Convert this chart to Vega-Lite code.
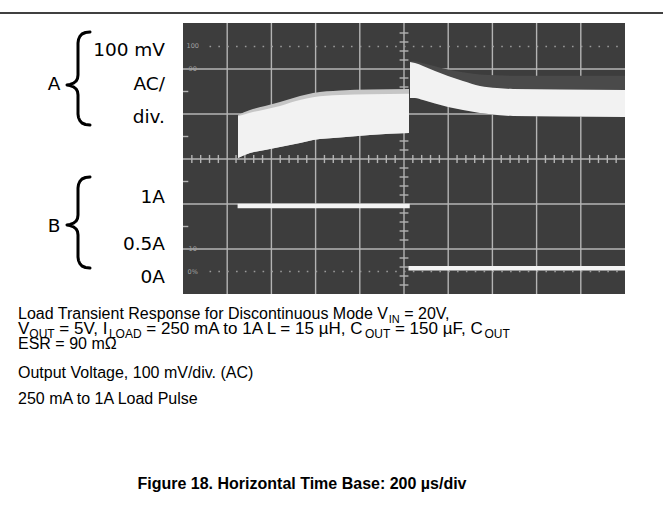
{
  "$schema": "https://vega.github.io/schema/vega-lite/v6.json",
  "width": 663,
  "height": 516,
  "autosize": {"type": "none"},
  "padding": 0,
  "background": "white",
  "config": {"view": {"stroke": null}},
  "datasets": {
    "topRule": [{"x1": -4.1403, "x2": 10.8597, "y1": 3.2444, "y2": 3.2444}],
    "screen": [{"x1": 0, "x2": 10, "y1": -3, "y2": 3.02}],
    "grid": [
      {"x1": 1, "x2": 1, "y1": -3, "y2": 3.02}, {"x1": 2, "x2": 2, "y1": -3, "y2": 3.02},
      {"x1": 3, "x2": 3, "y1": -3, "y2": 3.02}, {"x1": 4, "x2": 4, "y1": -3, "y2": 3.02},
      {"x1": 5, "x2": 5, "y1": -3, "y2": 3.02}, {"x1": 6, "x2": 6, "y1": -3, "y2": 3.02},
      {"x1": 7, "x2": 7, "y1": -3, "y2": 3.02}, {"x1": 8, "x2": 8, "y1": -3, "y2": 3.02},
      {"x1": 9, "x2": 9, "y1": -3, "y2": 3.02},
      {"x1": 0, "x2": 10, "y1": -2, "y2": -2}, {"x1": 0, "x2": 10, "y1": -1, "y2": -1},
      {"x1": 0, "x2": 10, "y1": 0, "y2": 0}, {"x1": 0, "x2": 10, "y1": 1, "y2": 1},
      {"x1": 0, "x2": 10, "y1": 2, "y2": 2}
    ],
    "ticksH": [
      {"u": 0.2}, {"u": 0.4}, {"u": 0.6}, {"u": 0.8}, {"u": 1.2}, {"u": 1.4}, {"u": 1.6}, {"u": 1.8},
      {"u": 2.2}, {"u": 2.4}, {"u": 2.6}, {"u": 2.8}, {"u": 3.2}, {"u": 3.4}, {"u": 3.6}, {"u": 3.8},
      {"u": 4.2}, {"u": 4.4}, {"u": 4.6}, {"u": 4.8}, {"u": 5.2}, {"u": 5.4}, {"u": 5.6}, {"u": 5.8},
      {"u": 6.2}, {"u": 6.4}, {"u": 6.6}, {"u": 6.8}, {"u": 7.2}, {"u": 7.4}, {"u": 7.6}, {"u": 7.8},
      {"u": 8.2}, {"u": 8.4}, {"u": 8.6}, {"u": 8.8}, {"u": 9.2}, {"u": 9.4}, {"u": 9.6}, {"u": 9.8}
    ],
    "ticksV": [
      {"v": -2.8}, {"v": -2.6}, {"v": -2.4}, {"v": -2.2}, {"v": -1.8}, {"v": -1.6}, {"v": -1.4}, {"v": -1.2},
      {"v": -0.8}, {"v": -0.6}, {"v": -0.4}, {"v": -0.2}, {"v": 0.2}, {"v": 0.4}, {"v": 0.6}, {"v": 0.8},
      {"v": 1.2}, {"v": 1.4}, {"v": 1.6}, {"v": 1.8}, {"v": 2.2}, {"v": 2.4}, {"v": 2.6}, {"v": 2.8}
    ],
    "edgeTicks": [
      {"x1": 0, "x2": 0.12, "y1": 1.5, "y2": 1.5}, {"x1": 0, "x2": 0.12, "y1": 0.5, "y2": 0.5},
      {"x1": 0, "x2": 0.12, "y1": -0.5, "y2": -0.5}, {"x1": 0, "x2": 0.12, "y1": -1.5, "y2": -1.5}
    ],
    "dots": [
      {"x1": 0.6, "x2": 10, "y1": 2.5, "y2": 2.5},
      {"x1": 0.6, "x2": 10, "y1": -2.5, "y2": -2.5}
    ],
    "tiny": [
      {"u": 0.22, "v": 2.5, "txt": "100"}, {"u": 0.22, "v": 2.0, "txt": "90"},
      {"u": 0.22, "v": -2.0, "txt": "10"}, {"u": 0.22, "v": -2.5, "txt": "0%"}
    ],
    "band": [
      {"seg": "a", "t": 1.2443, "hi": 0.9778, "hw": 0.95, "lo": 0.0222},
      {"seg": "a", "t": 1.5158, "hi": 1.0889, "hw": 1.03, "lo": 0.1333},
      {"seg": "a", "t": 1.8552, "hi": 1.1778, "hw": 1.1, "lo": 0.2},
      {"seg": "a", "t": 2.1946, "hi": 1.2667, "hw": 1.18, "lo": 0.2667},
      {"seg": "a", "t": 2.6471, "hi": 1.4, "hw": 1.31, "lo": 0.3556},
      {"seg": "a", "t": 2.9412, "hi": 1.4667, "hw": 1.37, "lo": 0.4222},
      {"seg": "a", "t": 3.552, "hi": 1.5222, "hw": 1.42, "lo": 0.4778},
      {"seg": "a", "t": 4.2308, "hi": 1.5444, "hw": 1.44, "lo": 0.5333},
      {"seg": "a", "t": 5.1131, "hi": 1.5556, "hw": 1.45, "lo": 0.5778},
      {"seg": "b", "t": 5.1357, "hi": 2.18, "hw": 2.1556, "lo": 1.3556},
      {"seg": "b", "t": 5.2489, "hi": 2.17, "hw": 2.1333, "lo": 1.3556},
      {"seg": "b", "t": 5.4299, "hi": 2.13, "hw": 2.0667, "lo": 1.3111},
      {"seg": "b", "t": 5.7014, "hi": 2.06, "hw": 1.9556, "lo": 1.2333},
      {"seg": "b", "t": 5.9955, "hi": 1.99, "hw": 1.8444, "lo": 1.1556},
      {"seg": "b", "t": 6.3348, "hi": 1.93, "hw": 1.7333, "lo": 1.0889},
      {"seg": "b", "t": 6.7195, "hi": 1.88, "hw": 1.6222, "lo": 1.0222},
      {"seg": "b", "t": 7.1041, "hi": 1.86, "hw": 1.5778, "lo": 0.9778},
      {"seg": "b", "t": 7.4661, "hi": 1.85, "hw": 1.5556, "lo": 0.9556},
      {"seg": "b", "t": 8.5294, "hi": 1.85, "hw": 1.5444, "lo": 0.9444},
      {"seg": "b", "t": 10, "hi": 1.85, "hw": 1.5333, "lo": 0.9333}
    ],
    "current": [
      {"x1": 1.235, "x2": 5.13, "y1": -1.044, "y2": -1.044},
      {"x1": 5.1, "x2": 10, "y1": -2.429, "y2": -2.429}
    ],
    "brace": [
      {"b": "A", "i": 1, "x": -2.1041, "y": 2.8222}, {"b": "A", "i": 2, "x": -2.2059, "y": 2.8111},
      {"b": "A", "i": 3, "x": -2.2851, "y": 2.7778}, {"b": "A", "i": 4, "x": -2.3348, "y": 2.7222},
      {"b": "A", "i": 5, "x": -2.3643, "y": 2.6556}, {"b": "A", "i": 6, "x": -2.3756, "y": 2.5778},
      {"b": "A", "i": 7, "x": -2.3756, "y": 1.8667}, {"b": "A", "i": 8, "x": -2.3869, "y": 1.7889},
      {"b": "A", "i": 9, "x": -2.4208, "y": 1.7289}, {"b": "A", "i": 10, "x": -2.4774, "y": 1.6844},
      {"b": "A", "i": 11, "x": -2.5566, "y": 1.6578}, {"b": "A", "i": 12, "x": -2.6244, "y": 1.6444},
      {"b": "A", "i": 13, "x": -2.5566, "y": 1.6311}, {"b": "A", "i": 14, "x": -2.4774, "y": 1.6044},
      {"b": "A", "i": 15, "x": -2.4208, "y": 1.56}, {"b": "A", "i": 16, "x": -2.3869, "y": 1.5},
      {"b": "A", "i": 17, "x": -2.3756, "y": 1.4222}, {"b": "A", "i": 18, "x": -2.3756, "y": 1.0},
      {"b": "A", "i": 19, "x": -2.3643, "y": 0.9222}, {"b": "A", "i": 20, "x": -2.3348, "y": 0.8556},
      {"b": "A", "i": 21, "x": -2.2851, "y": 0.8}, {"b": "A", "i": 22, "x": -2.2059, "y": 0.7667},
      {"b": "A", "i": 23, "x": -2.1041, "y": 0.7556},
      {"b": "B", "i": 1, "x": -2.1041, "y": -0.4}, {"b": "B", "i": 2, "x": -2.2059, "y": -0.4111},
      {"b": "B", "i": 3, "x": -2.2851, "y": -0.4444}, {"b": "B", "i": 4, "x": -2.3348, "y": -0.5},
      {"b": "B", "i": 5, "x": -2.3643, "y": -0.5667}, {"b": "B", "i": 6, "x": -2.3756, "y": -0.6444},
      {"b": "B", "i": 7, "x": -2.3756, "y": -1.2444}, {"b": "B", "i": 8, "x": -2.3869, "y": -1.3222},
      {"b": "B", "i": 9, "x": -2.4208, "y": -1.3822}, {"b": "B", "i": 10, "x": -2.4774, "y": -1.4267},
      {"b": "B", "i": 11, "x": -2.5566, "y": -1.4533}, {"b": "B", "i": 12, "x": -2.6244, "y": -1.4667},
      {"b": "B", "i": 13, "x": -2.5566, "y": -1.48}, {"b": "B", "i": 14, "x": -2.4774, "y": -1.5067},
      {"b": "B", "i": 15, "x": -2.4208, "y": -1.5511}, {"b": "B", "i": 16, "x": -2.3869, "y": -1.6111},
      {"b": "B", "i": 17, "x": -2.3756, "y": -1.6889}, {"b": "B", "i": 18, "x": -2.3756, "y": -2.1778},
      {"b": "B", "i": 19, "x": -2.3643, "y": -2.2556}, {"b": "B", "i": 20, "x": -2.3348, "y": -2.3222},
      {"b": "B", "i": 21, "x": -2.2851, "y": -2.3778}, {"b": "B", "i": 22, "x": -2.2059, "y": -2.4111},
      {"b": "B", "i": 23, "x": -2.1041, "y": -2.4222}
    ],
    "labR": [
      {"u": -0.4072, "v": 2.2889, "txt": "100 mV"},
      {"u": -0.4072, "v": 1.5333, "txt": "AC/"},
      {"u": -0.4072, "v": 0.8, "txt": "div."},
      {"u": -0.4072, "v": -0.9778, "txt": "1A"},
      {"u": -0.4072, "v": -2.0222, "txt": "0.5A"},
      {"u": -0.4072, "v": -2.7556, "txt": "0A"}
    ],
    "labC": [
      {"u": -2.9186, "v": 1.5333, "txt": "A"},
      {"u": -2.9186, "v": -1.6222, "txt": "B"}
    ],
    "cap": [
      {"u": -3.733, "v": -3.5556, "txt": "Load Transient Response for Discontinuous Mode V"},
      {"u": 5.0056, "v": -3.5556, "txt": "= 20V,"},
      {"u": -3.733, "v": -4.2222, "txt": "ESR = 90 mΩ"},
      {"u": -3.733, "v": -4.8667, "txt": "Output Voltage, 100 mV/div. (AC)"},
      {"u": -3.733, "v": -5.4444, "txt": "250 mA to 1A Load Pulse"}
    ],
    "capsub": [
      {"u": 4.656, "v": -3.5556, "txt": "IN"}
    ],
    "cap2": [
      {"u": -3.733, "v": -3.8889, "txt": "V"},
      {"u": -2.7986, "v": -3.8889, "txt": "= 5V, I"},
      {"u": -0.8303, "v": -3.8889, "txt": "= 250 mA to 1A L = 15 µH, C"},
      {"u": 4.7941, "v": -3.8889, "txt": "= 150 µF, C"}
    ],
    "cap2sub": [
      {"u": -3.4774, "v": -3.8889, "txt": "OUT"},
      {"u": -1.6765, "v": -3.8889, "txt": "LOAD"},
      {"u": 4.1154, "v": -3.8889, "txt": "OUT"},
      {"u": 6.8213, "v": -3.8889, "txt": "OUT"}
    ],
    "fig": [
      {"u": 2.6923, "v": -7.3333, "txt": "Figure 18. Horizontal Time Base: 200 µs/div"}
    ]
  },
  "layer": [
    {
      "data": {"name": "topRule"},
      "mark": {"type": "rule", "color": "#000000", "strokeWidth": 1.5},
      "encoding": {
        "x": {"field": "x1", "type": "quantitative", "axis": null, "scale": {"domain": [-4.1403, 10.8597], "nice": false, "zero": false}},
        "x2": {"field": "x2"},
        "y": {"field": "y1", "type": "quantitative", "axis": null, "scale": {"domain": [-7.9333, 3.5333], "nice": false, "zero": false}},
        "y2": {"field": "y2"}
      }
    },
    {
      "data": {"name": "screen"},
      "mark": {"type": "rect", "color": "#3d3d3d"},
      "encoding": {
        "x": {"field": "x1", "type": "quantitative", "axis": null, "scale": {"domain": [-4.1403, 10.8597], "nice": false, "zero": false}},
        "x2": {"field": "x2"},
        "y": {"field": "y1", "type": "quantitative", "axis": null, "scale": {"domain": [-7.9333, 3.5333], "nice": false, "zero": false}},
        "y2": {"field": "y2"}
      }
    },
    {
      "data": {"name": "grid"},
      "mark": {"type": "rule", "color": "#b4b4b4", "strokeWidth": 1.4},
      "encoding": {
        "x": {"field": "x1", "type": "quantitative", "axis": null, "scale": {"domain": [-4.1403, 10.8597], "nice": false, "zero": false}},
        "x2": {"field": "x2"},
        "y": {"field": "y1", "type": "quantitative", "axis": null, "scale": {"domain": [-7.9333, 3.5333], "nice": false, "zero": false}},
        "y2": {"field": "y2"}
      }
    },
    {
      "data": {"name": "ticksH"},
      "mark": {"type": "rule", "color": "#b4b4b4", "strokeWidth": 1.4},
      "encoding": {
        "x": {"field": "u", "type": "quantitative", "axis": null, "scale": {"domain": [-4.1403, 10.8597], "nice": false, "zero": false}},
        "y": {"datum": -0.09, "type": "quantitative", "axis": null, "scale": {"domain": [-7.9333, 3.5333], "nice": false, "zero": false}},
        "y2": {"datum": 0.09}
      }
    },
    {
      "data": {"name": "ticksV"},
      "mark": {"type": "rule", "color": "#b4b4b4", "strokeWidth": 1.4},
      "encoding": {
        "x": {"datum": 4.9, "type": "quantitative", "axis": null, "scale": {"domain": [-4.1403, 10.8597], "nice": false, "zero": false}},
        "x2": {"datum": 5.1},
        "y": {"field": "v", "type": "quantitative", "axis": null, "scale": {"domain": [-7.9333, 3.5333], "nice": false, "zero": false}}
      }
    },
    {
      "data": {"name": "edgeTicks"},
      "mark": {"type": "rule", "color": "#b4b4b4", "strokeWidth": 1.4},
      "encoding": {
        "x": {"field": "x1", "type": "quantitative", "axis": null, "scale": {"domain": [-4.1403, 10.8597], "nice": false, "zero": false}},
        "x2": {"field": "x2"},
        "y": {"field": "y1", "type": "quantitative", "axis": null, "scale": {"domain": [-7.9333, 3.5333], "nice": false, "zero": false}},
        "y2": {"field": "y2"}
      }
    },
    {
      "data": {"name": "dots"},
      "mark": {"type": "rule", "color": "#9a9a9a", "strokeWidth": 1.6, "strokeDash": [1.6, 7.24]},
      "encoding": {
        "x": {"field": "x1", "type": "quantitative", "axis": null, "scale": {"domain": [-4.1403, 10.8597], "nice": false, "zero": false}},
        "x2": {"field": "x2"},
        "y": {"field": "y1", "type": "quantitative", "axis": null, "scale": {"domain": [-7.9333, 3.5333], "nice": false, "zero": false}},
        "y2": {"field": "y2"}
      }
    },
    {
      "data": {"name": "tiny"},
      "mark": {"type": "text", "font": "DejaVu Sans", "fontSize": 6.5, "color": "#a0a0a0", "align": "center", "baseline": "middle"},
      "encoding": {
        "x": {"field": "u", "type": "quantitative", "axis": null, "scale": {"domain": [-4.1403, 10.8597], "nice": false, "zero": false}},
        "y": {"field": "v", "type": "quantitative", "axis": null, "scale": {"domain": [-7.9333, 3.5333], "nice": false, "zero": false}},
        "text": {"field": "txt"}
      }
    },
    {
      "data": {"name": "band"},
      "transform": [{"filter": "datum.seg === 'a'"}],
      "mark": {"type": "area", "color": "#c6c6c6", "interpolate": "monotone"},
      "encoding": {
        "x": {"field": "t", "type": "quantitative", "axis": null, "scale": {"domain": [-4.1403, 10.8597], "nice": false, "zero": false}},
        "y": {"field": "hi", "type": "quantitative", "axis": null, "scale": {"domain": [-7.9333, 3.5333], "nice": false, "zero": false}},
        "y2": {"field": "lo"}
      }
    },
    {
      "data": {"name": "band"},
      "transform": [{"filter": "datum.seg === 'b'"}],
      "mark": {"type": "area", "color": "#4a4a4a", "interpolate": "monotone"},
      "encoding": {
        "x": {"field": "t", "type": "quantitative", "axis": null, "scale": {"domain": [-4.1403, 10.8597], "nice": false, "zero": false}},
        "y": {"field": "hi", "type": "quantitative", "axis": null, "scale": {"domain": [-7.9333, 3.5333], "nice": false, "zero": false}},
        "y2": {"field": "lo"}
      }
    },
    {
      "data": {"name": "band"},
      "mark": {"type": "area", "color": "#f2f2f2", "interpolate": "monotone"},
      "encoding": {
        "x": {"field": "t", "type": "quantitative", "axis": null, "scale": {"domain": [-4.1403, 10.8597], "nice": false, "zero": false}},
        "y": {"field": "hw", "type": "quantitative", "axis": null, "scale": {"domain": [-7.9333, 3.5333], "nice": false, "zero": false}},
        "y2": {"field": "lo"},
        "detail": {"field": "seg"}
      }
    },
    {
      "data": {"name": "current"},
      "mark": {"type": "rule", "color": "#f4f4f4", "strokeWidth": 4.5},
      "encoding": {
        "x": {"field": "x1", "type": "quantitative", "axis": null, "scale": {"domain": [-4.1403, 10.8597], "nice": false, "zero": false}},
        "x2": {"field": "x2"},
        "y": {"field": "y1", "type": "quantitative", "axis": null, "scale": {"domain": [-7.9333, 3.5333], "nice": false, "zero": false}},
        "y2": {"field": "y2"}
      }
    },
    {
      "data": {"name": "brace"},
      "mark": {"type": "line", "color": "#000000", "strokeWidth": 3, "strokeCap": "round", "strokeJoin": "round"},
      "encoding": {
        "x": {"field": "x", "type": "quantitative", "axis": null, "scale": {"domain": [-4.1403, 10.8597], "nice": false, "zero": false}},
        "y": {"field": "y", "type": "quantitative", "axis": null, "scale": {"domain": [-7.9333, 3.5333], "nice": false, "zero": false}},
        "order": {"field": "i", "type": "quantitative"},
        "detail": {"field": "b"}
      }
    },
    {
      "data": {"name": "labR"},
      "mark": {"type": "text", "font": "DejaVu Sans", "fontSize": 18.5, "color": "#000000", "align": "right", "baseline": "alphabetic"},
      "encoding": {
        "x": {"field": "u", "type": "quantitative", "axis": null, "scale": {"domain": [-4.1403, 10.8597], "nice": false, "zero": false}},
        "y": {"field": "v", "type": "quantitative", "axis": null, "scale": {"domain": [-7.9333, 3.5333], "nice": false, "zero": false}},
        "text": {"field": "txt"}
      }
    },
    {
      "data": {"name": "labC"},
      "mark": {"type": "text", "font": "DejaVu Sans", "fontSize": 18.5, "color": "#000000", "align": "center", "baseline": "alphabetic"},
      "encoding": {
        "x": {"field": "u", "type": "quantitative", "axis": null, "scale": {"domain": [-4.1403, 10.8597], "nice": false, "zero": false}},
        "y": {"field": "v", "type": "quantitative", "axis": null, "scale": {"domain": [-7.9333, 3.5333], "nice": false, "zero": false}},
        "text": {"field": "txt"}
      }
    },
    {
      "data": {"name": "cap"},
      "mark": {"type": "text", "font": "Liberation Sans", "fontSize": 16, "color": "#000000", "align": "left", "baseline": "alphabetic"},
      "encoding": {
        "x": {"field": "u", "type": "quantitative", "axis": null, "scale": {"domain": [-4.1403, 10.8597], "nice": false, "zero": false}},
        "y": {"field": "v", "type": "quantitative", "axis": null, "scale": {"domain": [-7.9333, 3.5333], "nice": false, "zero": false}},
        "text": {"field": "txt"}
      }
    },
    {
      "data": {"name": "capsub"},
      "mark": {"type": "text", "font": "Liberation Sans", "fontSize": 11, "color": "#000000", "align": "left", "baseline": "alphabetic", "dy": 4},
      "encoding": {
        "x": {"field": "u", "type": "quantitative", "axis": null, "scale": {"domain": [-4.1403, 10.8597], "nice": false, "zero": false}},
        "y": {"field": "v", "type": "quantitative", "axis": null, "scale": {"domain": [-7.9333, 3.5333], "nice": false, "zero": false}},
        "text": {"field": "txt"}
      }
    },
    {
      "data": {"name": "cap2"},
      "mark": {"type": "text", "font": "Liberation Sans", "fontSize": 17, "color": "#000000", "align": "left", "baseline": "alphabetic"},
      "encoding": {
        "x": {"field": "u", "type": "quantitative", "axis": null, "scale": {"domain": [-4.1403, 10.8597], "nice": false, "zero": false}},
        "y": {"field": "v", "type": "quantitative", "axis": null, "scale": {"domain": [-7.9333, 3.5333], "nice": false, "zero": false}},
        "text": {"field": "txt"}
      }
    },
    {
      "data": {"name": "cap2sub"},
      "mark": {"type": "text", "font": "Liberation Sans", "fontSize": 12, "color": "#000000", "align": "left", "baseline": "alphabetic", "dy": 4},
      "encoding": {
        "x": {"field": "u", "type": "quantitative", "axis": null, "scale": {"domain": [-4.1403, 10.8597], "nice": false, "zero": false}},
        "y": {"field": "v", "type": "quantitative", "axis": null, "scale": {"domain": [-7.9333, 3.5333], "nice": false, "zero": false}},
        "text": {"field": "txt"}
      }
    },
    {
      "data": {"name": "fig"},
      "mark": {"type": "text", "font": "Liberation Sans", "fontSize": 16, "fontWeight": "bold", "color": "#000000", "align": "center", "baseline": "alphabetic"},
      "encoding": {
        "x": {"field": "u", "type": "quantitative", "axis": null, "scale": {"domain": [-4.1403, 10.8597], "nice": false, "zero": false}},
        "y": {"field": "v", "type": "quantitative", "axis": null, "scale": {"domain": [-7.9333, 3.5333], "nice": false, "zero": false}},
        "text": {"field": "txt"}
      }
    }
  ]
}
